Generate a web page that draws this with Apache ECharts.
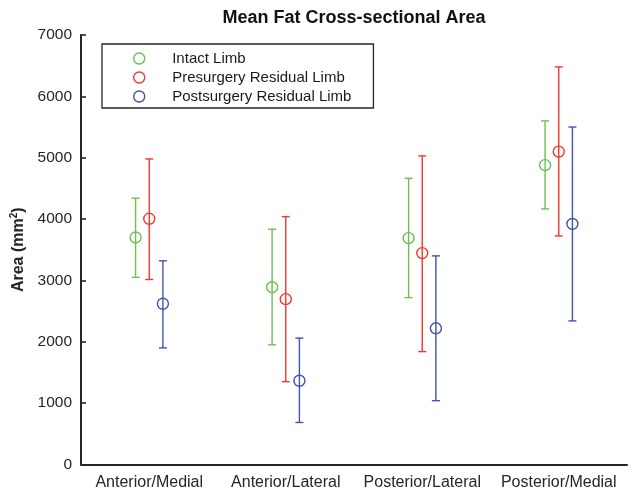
<!DOCTYPE html>
<html>
<head>
<meta charset="utf-8">
<script src="https://cdn.jsdelivr.net/npm/echarts@6/dist/echarts.min.js"></script>
<style>
  html, body { margin: 0; padding: 0; background: #fff; }
  #chart { width: 637px; height: 491px; }
</style>
</head>
<body>
<div id="chart"></div>
<script>
// regions measured around the limb
const categories = ['Anterior/Medial', 'Anterior/Lateral', 'Posterior/Lateral', 'Posterior/Medial']

// mean with lower / upper ends of the error bars (mm^2)
const intactMean = [3700, 2890, 3690, 4880]
const intactLow = [3050, 1950, 2720, 4165]
const intactHigh = [4340, 3835, 4665, 5600]

const preMean = [4005, 2695, 3445, 5100]
const preLow = [3015, 1350, 1840, 3725]
const preHigh = [4980, 4040, 5030, 6480]

const postMean = [2620, 1365, 2220, 3920]
const postLow = [1900, 685, 1040, 2340]
const postHigh = [3320, 2060, 3400, 5500]

const yMin = 0
const yMax = 7000
const yStep = 1000

const groups = [
  { name: 'Intact Limb', mean: intactMean, low: intactLow, high: intactHigh, color: '#6cc04f', offset: -0.1 },
  { name: 'Presurgery Residual Limb', mean: preMean, low: preLow, high: preHigh, color: '#f2382c', offset: 0 },
  { name: 'Postsurgery Residual Limb', mean: postMean, low: postLow, high: postHigh, color: '#4152b0', offset: 0.1 }
]

const axisColor = '#262626'
const font = '"Liberation Sans", Arial, Helvetica, sans-serif'

const chart = echarts.init(document.getElementById('chart'), null, { renderer: 'canvas' })

// error bar + hollow circle, shifted inside the category band
function makeRenderer(offset, color) {
  return function (params, api) {
    const ci = api.value(0)
    const band = api.size([1, 0])[0]
    const p = api.coord([ci, api.value(1)])
    const x = p[0] + offset * band
    const yLo = api.coord([ci, api.value(2)])[1]
    const yHi = api.coord([ci, api.value(3)])[1]
    const cap = 4
    const line = { stroke: color, lineWidth: 1.4 }
    return {
      type: 'group',
      children: [
        { type: 'line', shape: { x1: x, y1: yLo, x2: x, y2: yHi }, style: line },
        { type: 'line', shape: { x1: x - cap, y1: yHi, x2: x + cap, y2: yHi }, style: line },
        { type: 'line', shape: { x1: x - cap, y1: yLo, x2: x + cap, y2: yLo }, style: line },
        { type: 'circle', shape: { cx: x, cy: p[1], r: 5.5 }, style: { fill: 'none', stroke: color, lineWidth: 1.4 } }
      ]
    }
  }
}

const option = {
  animation: false,
  backgroundColor: '#fff',
  textStyle: { fontFamily: font },
  title: {
    text: 'Mean Fat Cross-sectional Area',
    left: 354,
    top: 9,
    padding: 0,
    textAlign: 'center',
    textStyle: { fontSize: 18, fontWeight: 'bold', color: '#111', fontFamily: font }
  },
  legend: {
    orient: 'vertical',
    left: 102,
    top: 44,
    padding: [7, 22, 4, 31],
    itemWidth: 56,
    itemHeight: 11,
    itemGap: 4,
    borderColor: axisColor,
    borderWidth: 1.3,
    borderRadius: 0,
    backgroundColor: '#fff',
    textStyle: { fontSize: 15, color: '#1a1a1a', fontFamily: font, lineHeight: 11, padding: [0, 0, 0, 0] },
    data: groups.map(g => ({
      name: g.name,
      icon: 'circle',
      itemStyle: { color: 'rgba(255,255,255,0)', borderColor: g.color, borderWidth: 1.4 }
    }))
  },
  grid: {
    left: 81,
    right: 10,
    top: 35,
    bottom: 26.5
  },
  xAxis: {
    type: 'category',
    data: categories,
    boundaryGap: true,
    axisLine: { lineStyle: { color: axisColor, width: 2 } },
    axisTick: { alignWithLabel: true, inside: true, length: 5, lineStyle: { color: axisColor, width: 1.6 } },
    axisLabel: { color: axisColor, fontSize: 16, margin: 10, interval: 0, fontFamily: font },
    splitLine: { show: false }
  },
  yAxis: {
    type: 'value',
    min: yMin,
    max: yMax,
    interval: yStep,
    name: 'Area (mm{sup|2})',
    nameLocation: 'middle',
    nameRotate: 90,
    nameGap: 47,
    nameTextStyle: {
      fontSize: 16,
      fontWeight: 'bold',
      color: axisColor,
      fontFamily: font,
      rich: {
        sup: { fontSize: 10, fontWeight: 'bold', color: axisColor, verticalAlign: 'top', padding: [0, 0, 8, 0], fontFamily: font }
      }
    },
    axisLine: { show: true, lineStyle: { color: axisColor, width: 2 } },
    axisTick: { show: true, inside: true, length: 5, lineStyle: { color: axisColor, width: 1.6 } },
    axisLabel: { color: axisColor, fontSize: 15.5, margin: 9, fontFamily: font, formatter: v => String(v) },
    splitLine: { show: false }
  },
  series: groups.map(g => ({
    name: g.name,
    type: 'custom',
    color: g.color,
    encode: { x: 0, y: [1, 2, 3] },
    renderItem: makeRenderer(g.offset, g.color),
    data: categories.map((c, i) => [i, g.mean[i], g.low[i], g.high[i]])
  }))
}

chart.setOption(option)
</script>
</body>
</html>
